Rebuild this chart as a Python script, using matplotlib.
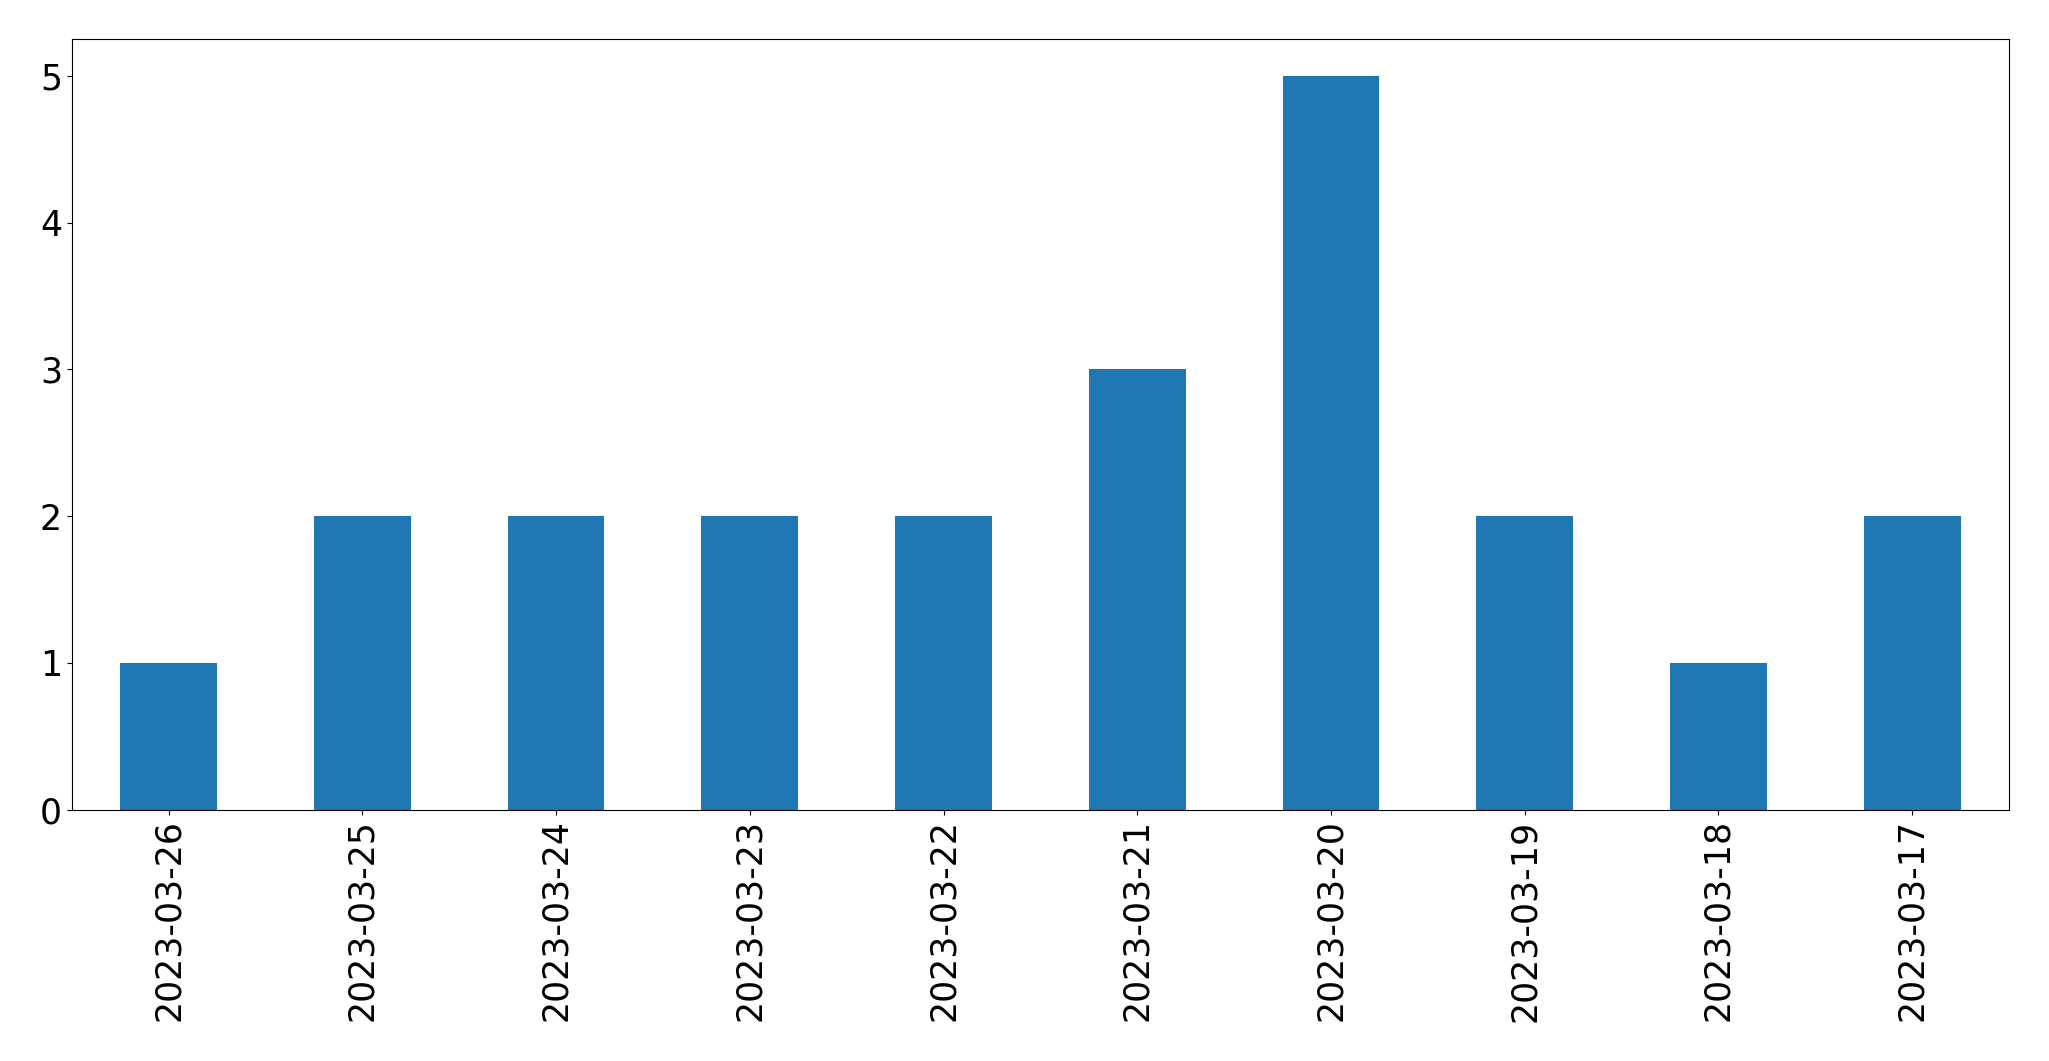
import matplotlib
matplotlib.use("Agg")
import matplotlib.pyplot as plt
import pandas as pd

dates = ["2023-03-26", "2023-03-25", "2023-03-24", "2023-03-23", "2023-03-22",
         "2023-03-21", "2023-03-20", "2023-03-19", "2023-03-18", "2023-03-17"]
counts = [1, 2, 2, 2, 2, 3, 5, 2, 1, 2]

s = pd.Series(counts, index=dates)

fig, ax = plt.subplots(figsize=(20.49, 10.61), dpi=100)
s.plot(kind="bar", ax=ax, color="#1f77b4")
ax.tick_params(axis="both", labelsize=25)
plt.subplots_adjust(left=0.035, right=0.9805, top=0.963, bottom=0.237)
fig.savefig("out.png", dpi=100)
